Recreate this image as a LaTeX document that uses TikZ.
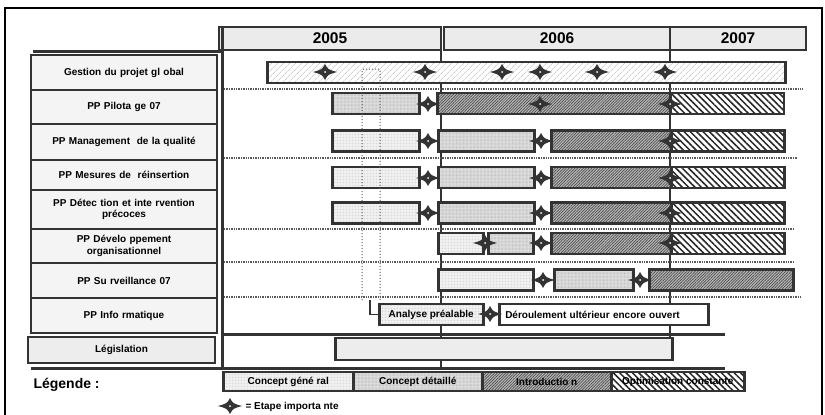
\documentclass[tikz,border=0pt]{standalone}
\usepackage{fontspec}
\setmainfont{Liberation Sans}
\usetikzlibrary{patterns.meta}

\begin{document}
\begin{tikzpicture}[
        x=1pt, y=-1pt,
        font=\fontsize{10}{11.5}\selectfont\bfseries,
        frame/.style={draw=black!80, line width=2.5pt},
        rowlabel/.style={
            rectangle,
            frame,
            fill=gray!9,
            minimum width=186pt,
            text width=180pt,
            align=center,
            inner sep=0pt
        },
        year/.style={
            rectangle,
            frame,
            fill=gray!16,
            minimum height=23pt,
            inner sep=0pt,
            font=\fontsize{15.5}{15.5}\selectfont\bfseries
        },
        bar/.style={
            rectangle,
            frame,
            anchor=west,
            minimum height=21pt,
            inner sep=0pt
        },
        general/.style={bar, preaction={fill=gray!8}, pattern={Dots[distance=1.5pt, radius=0.3pt]}, pattern color=gray!40},
        detail/.style={bar, preaction={fill=gray!24}, pattern={Dots[distance=1.4pt, radius=0.35pt]}, pattern color=gray!65},
        intro/.style={bar, preaction={fill=gray!55}, pattern={Lines[angle=45, distance=2pt, line width=0.7pt]}, pattern color=black!70},
        optim/.style={bar, preaction={fill=white}, pattern={Lines[angle=-45, distance=4.5pt, line width=1.5pt]}, pattern color=black!85},
        hatch/.style={bar, preaction={fill=white}, pattern={Lines[angle=45, distance=4pt, line width=0.5pt]}, pattern color=gray!55},
        separator/.style={densely dotted, line width=1.4pt, draw=black!65},
        guide/.style={dotted, line width=1pt, draw=black!65},
        link/.style={draw=black!80, line width=1.8pt},
        milestone/.pic={
            \fill[black!80] (-12,0) .. controls (-3,-2.5) .. (0,-8) .. controls (3,-2.5) .. (12,0)
                .. controls (3,2.5) .. (0,8) .. controls (-3,2.5) .. (-12,0) -- cycle;
            \fill[white] (0,0) circle (1);
        }
    ]
        \useasboundingbox (0,0) rectangle (825,415);

        % Outer frame
        \draw[line width=2.2pt] (5,420) -- (5,8) -- (822,8) -- (822,420);

        % Year header
        \node[year, minimum width=222pt] (y2005) at (330,38.5) {2005};
        \node[year, minimum width=226pt] (y2006) at (557,38.5) {2006};
        \node[year, minimum width=136pt] (y2007) at (738,38.5) {2007};

        % Grid lines
        \draw[frame, line width=3pt] (33,51) -- (222,51);
        \draw[frame, line width=3pt] (222,27) -- (222,368);
        \draw[frame, line width=3pt] (31,368) -- (725,368);
        \draw[frame, line width=3pt] (222,334) -- (725,334);
        \draw[frame, line width=2.8pt] (441,27) -- (441,368);
        \draw[frame, line width=2.2pt] (670,27) -- (670,360);

        % Row labels
        \node[rowlabel, minimum height=35pt] (gestion) at (124,72.5) {Gestion du projet gl obal};
        \node[rowlabel, minimum height=34pt] (pilotage) at (124,107) {PP Pilota ge 07};
        \node[rowlabel, minimum height=36pt] (qualite) at (124,142) {PP Management\ \ de la qualité};
        \node[rowlabel, minimum height=30pt] (reinsertion) at (124,175) {PP Mesures de\ \ réinsertion};
        \node[rowlabel, minimum height=39pt] (detection) at (124,209.5) {PP Détec tion et inte rvention\\précoces};
        \node[rowlabel, minimum height=34pt] (developpement) at (124,246) {PP Dévelo ppement\\organisationnel};
        \node[rowlabel, minimum height=35pt] (surveillance) at (124,280.5) {PP Su rveillance 07};
        \node[rowlabel, minimum height=35pt] (informatique) at (124,315.5) {PP Info rmatique};
        \node[rowlabel, minimum width=187pt, minimum height=26pt, fill=gray!14] (legislation) at (121.5,350) {Législation};

        % Row separators
        \draw[separator] (224,89) -- (803,89);
        \draw[separator] (224,158) -- (797,158);
        \draw[separator] (224,229) -- (795,229);
        \draw[separator] (224,262) -- (795,262);
        \draw[separator] (224,297) -- (802,297);

        % Bars
        \node[hatch, minimum width=518pt] (gestionbar) at (267,72.5) {};

        \node[detail, minimum width=87pt] (pil1) at (331,103.5) {};
        \node[intro, minimum width=233pt] (pil2) at (437,103.5) {};
        \node[optim, minimum width=113pt] (pil3) at (670,103.5) {};

        \node[general, minimum width=87pt] (qua1) at (331,141) {};
        \node[detail, minimum width=96pt] (qua2) at (437,141) {};
        \node[intro, minimum width=120pt] (qua3) at (550,141) {};
        \node[optim, minimum width=113pt] (qua4) at (670,141) {};

        \node[general, minimum width=87pt] (rei1) at (331,177.5) {};
        \node[detail, minimum width=96pt] (rei2) at (437,177.5) {};
        \node[intro, minimum width=120pt] (rei3) at (550,177.5) {};
        \node[optim, minimum width=113pt] (rei4) at (670,177.5) {};

        \node[general, minimum width=87pt] (det1) at (331,213) {};
        \node[detail, minimum width=96pt] (det2) at (437,213) {};
        \node[intro, minimum width=120pt] (det3) at (550,213) {};
        \node[optim, minimum width=113pt] (det4) at (670,213) {};

        \node[general, minimum width=45pt] (dev1) at (437,243.5) {};
        \node[detail, minimum width=45pt] (dev2) at (487,243.5) {};
        \node[intro, minimum width=120pt] (dev3) at (550,243.5) {};
        \node[optim, minimum width=113pt] (dev4) at (670,243.5) {};

        \node[general, minimum width=95pt] (sur1) at (437,280) {};
        \node[detail, minimum width=79pt] (sur2) at (553,280) {};
        \node[intro, minimum width=144pt] (sur3) at (648,280) {};

        \node[general, minimum width=104pt] (analyse) at (378,314.5) {Analyse préalable};
        \node[bar, fill=white, minimum width=209pt, text width=197pt, inner xsep=6pt, align=left] (deroulement) at (498,314.5) {Déroulement ultérieur encore ouvert};

        \node[bar, fill=gray!14, minimum width=337pt, minimum height=22pt] (legisbar) at (334,349) {};

        % Guide lines
        \draw[guide, rounded corners=2pt] (362,300) -- (362,69) -- (380,69) -- (380,300);
        \coordinate (gap) at (370,300);
        \draw[link] (gap) |- (analyse.west);

        % Milestones
        \pic at (325,72) {milestone}; \pic at (425,72) {milestone}; \pic at (502,72) {milestone};
        \pic at (540,72) {milestone}; \pic at (597,72) {milestone}; \pic at (665,72) {milestone};
        \pic at (428,104) {milestone}; \pic at (540,104) {milestone}; \pic at (670,104) {milestone};
        \pic at (428,141) {milestone}; \pic at (541,141) {milestone}; \pic at (670,141) {milestone};
        \pic at (428,178) {milestone}; \pic at (541,178) {milestone}; \pic at (670,178) {milestone};
        \pic at (428,213) {milestone}; \pic at (541,213) {milestone}; \pic at (670,213) {milestone};
        \pic at (485,243) {milestone}; \pic at (541,243) {milestone}; \pic at (670,243) {milestone};
        \pic at (543,280) {milestone}; \pic at (640,280) {milestone};
        \pic at (490,314) {milestone};

        % Legend
        \node[anchor=west, font=\fontsize{14}{16}\selectfont\bfseries] (legende) at (30,385) {Légende :};
        \node[general, minimum width=130pt, minimum height=19pt] (lgeneral) at (222,381.5) {Concept géné ral};
        \node[detail, minimum width=129pt, minimum height=19pt] (ldetail) at (352,381.5) {Concept détaillé};
        \node[intro, minimum width=129pt, minimum height=19pt] (lintro) at (481,381.5) {Introductio n};
        \node[optim, minimum width=133pt, minimum height=19pt] (loptim) at (610,381.5) {Optimisation constante};
        \pic at (230,406) {milestone};
        \node[anchor=west] (letape) at (242,407) {= Etape importa nte};

    \end{tikzpicture}
\end{document}
